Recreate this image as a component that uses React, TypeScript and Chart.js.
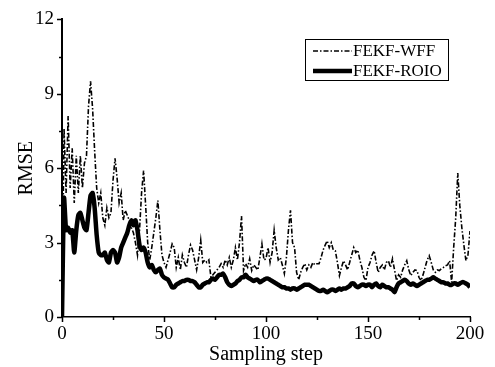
import React, { useEffect, useRef } from "react";
import { Chart, registerables } from "chart.js";

Chart.register(...registerables);

const seriesNames = ["FEKF-WFF", "FEKF-ROIO"];
const xTitle = "Sampling step";
const yTitle = "RMSE";
const xMajorTicks = [0, 50, 100, 150, 200];
const yMajorTicks = [0, 3, 6, 9, 12];

const wff = [
  0, 7.6, 5.0, 8.1, 5.2, 6.8, 4.6, 6.5, 5.0, 6.5,
  5.2, 6.2, 6.5, 8.5, 9.5, 8.4, 6.7, 5.2, 4.6, 5.0,
  4.0, 3.7, 4.4, 4.0, 4.2, 5.5, 6.4, 5.6, 4.6, 5.0,
  3.9, 4.3, 4.1, 3.9, 3.6, 3.4, 3.0, 2.5, 3.5, 5.0,
  5.9, 4.5, 3.0, 2.3, 2.8, 3.4, 4.0, 4.7, 3.5, 2.5,
  2.2, 2.0, 2.3, 2.6, 2.95, 2.8, 2.0, 2.4, 1.9, 2.5,
  2.2, 2.0, 2.5, 2.9, 2.7, 2.3, 1.9, 2.4, 3.1, 2.2,
  2.3, 2.2, 2.3, 1.6, 1.7, 1.8, 1.9, 2.0, 2.15, 2.0,
  2.3, 2.1, 2.4, 2.0, 2.3, 2.8, 2.3, 3.0, 4.07, 1.87,
  2.15, 2.0, 2.35, 1.87, 2.1, 2.0, 1.9, 2.4, 2.95, 2.3,
  2.35, 2.8, 2.2, 2.6, 3.5, 2.8, 2.3, 2.4, 2.1, 1.75,
  2.4, 3.5, 4.3, 3.0, 2.8, 1.8, 1.5, 1.8, 2.0, 2.15,
  1.9, 2.1, 2.0, 2.2, 2.1, 2.15, 2.15, 2.4, 2.7, 2.9,
  3.07, 2.8, 3.0, 2.7, 2.67, 2.2, 1.67, 2.0, 2.27, 2.1,
  1.9, 2.2, 2.5, 2.8, 2.6, 2.7, 2.3, 2.0, 1.6, 1.47,
  2.0, 2.2, 2.5, 2.67, 2.2, 1.8, 2.0, 2.1, 1.9, 2.2,
  2.27, 2.0, 2.35, 1.9, 1.47, 1.7, 1.6, 1.9, 2.1, 2.27,
  1.9, 1.67, 1.8, 1.9, 1.87, 1.6, 1.47, 1.7, 2.0, 2.3,
  2.47, 2.2, 1.9, 1.8, 1.9, 1.87, 1.95, 2.0, 2.07, 2.1,
  2.27, 1.4, 2.8, 4.0, 5.8, 4.5, 3.6, 2.9, 2.27, 2.5,
  3.47,
];

const roio = [
  0, 4.8, 3.5, 3.6, 3.4, 3.5, 2.6, 3.5, 4.1, 4.2,
  3.9, 3.6, 3.5, 4.2, 4.9, 5.0, 4.4, 3.3, 2.6, 2.5,
  2.5, 2.6, 2.3, 2.2, 2.6, 2.7, 2.6, 2.2, 2.4, 2.8,
  3.0, 3.2, 3.4, 3.7, 3.9, 3.7, 3.9, 3.5, 2.9, 2.7,
  2.8, 2.6, 2.2, 2.0, 2.1, 1.9, 1.8, 1.9, 1.95, 1.7,
  1.6, 1.55, 1.5, 1.35, 1.2, 1.2, 1.3, 1.35, 1.4, 1.45,
  1.45, 1.5, 1.5, 1.45, 1.45, 1.4, 1.3, 1.2, 1.2, 1.3,
  1.35, 1.4, 1.4, 1.5, 1.55, 1.5, 1.6, 1.7, 1.7, 1.75,
  1.6, 1.4, 1.3, 1.25, 1.3, 1.35, 1.45, 1.5, 1.6, 1.6,
  1.7, 1.6, 1.55, 1.5, 1.45, 1.5, 1.5, 1.4, 1.45, 1.5,
  1.55, 1.55, 1.5, 1.45, 1.4, 1.35, 1.3, 1.25, 1.2, 1.2,
  1.15, 1.15, 1.1, 1.15, 1.15, 1.1, 1.15, 1.2, 1.25, 1.3,
  1.3, 1.3, 1.25, 1.2, 1.15, 1.1, 1.05, 1.05, 1.1, 1.05,
  1.0, 1.05, 1.1, 1.1, 1.05, 1.1, 1.15, 1.1, 1.15, 1.15,
  1.2, 1.25, 1.35, 1.35, 1.25, 1.2, 1.25, 1.3, 1.3, 1.25,
  1.3, 1.3, 1.2, 1.3, 1.35, 1.25, 1.2, 1.3, 1.25, 1.2,
  1.2, 1.15, 1.1, 1.0, 1.2, 1.35, 1.4, 1.45, 1.5, 1.45,
  1.35, 1.3, 1.35, 1.3, 1.25, 1.3, 1.35, 1.4, 1.45, 1.5,
  1.5, 1.55, 1.6, 1.55, 1.5, 1.45, 1.4, 1.4, 1.35, 1.35,
  1.3, 1.3, 1.35, 1.35, 1.3, 1.35, 1.4, 1.4, 1.35, 1.3,
  1.2,
];

const FONT = "'Liberation Serif', 'Times New Roman', serif";
const DASH = [5, 2, 1.5, 2];

const minorTickPlugin = {
  id: "minorTicks",
  afterDraw(chart: any) {
    const ctx = chart.ctx;
    const xs = chart.scales.x;
    const ys = chart.scales.y;
    const area = chart.chartArea;
    ctx.save();
    ctx.strokeStyle = "#000";
    ctx.lineWidth = 1.5;
    ys.ticks.forEach((t: any) => {
      const p = Math.round(ys.getPixelForValue(t.value)) + 0.5;
      const len = yMajorTicks.includes(t.value) ? 5 : 3;
      ctx.beginPath();
      ctx.moveTo(area.left - len, p);
      ctx.lineTo(area.left, p);
      ctx.stroke();
    });
    xs.ticks.forEach((t: any) => {
      const p = Math.round(xs.getPixelForValue(t.value)) + 0.5;
      const len = xMajorTicks.includes(t.value) ? 5 : 3;
      ctx.beginPath();
      ctx.moveTo(p, area.bottom);
      ctx.lineTo(p, area.bottom + len);
      ctx.stroke();
    });
    ctx.restore();
  },
};

const legendPlugin = {
  id: "boxLegend",
  afterDraw(chart: any) {
    const ctx = chart.ctx;
    const bx = 305.5, by = 39.5, bw = 143, bh = 41;
    ctx.save();
    ctx.strokeStyle = "#000";
    ctx.lineWidth = 1;
    ctx.strokeRect(bx, by, bw, bh);
    const rows = [51, 71];
    chart.data.datasets.forEach((ds: any, i: number) => {
      const y = rows[i];
      ctx.beginPath();
      ctx.lineWidth = ds.borderWidth;
      ctx.setLineDash(ds.borderDash || []);
      ctx.moveTo(313, y);
      ctx.lineTo(352, y);
      ctx.stroke();
      ctx.setLineDash([]);
      ctx.fillStyle = "#000";
      ctx.font = `17px ${FONT}`;
      ctx.textBaseline = "middle";
      ctx.textAlign = "left";
      ctx.fillText(ds.label, 353, y + 1);
    });
    ctx.restore();
  },
};

export default function App() {
  const ref = useRef<HTMLCanvasElement | null>(null);
  useEffect(() => {
    if (!ref.current) return;
    const chart = new Chart(ref.current, {
      type: "line",
      data: {
        datasets: [
          {
            label: seriesNames[0],
            data: wff.map((v, i) => ({ x: i, y: v })),
            borderColor: "#000",
            borderWidth: 1.6,
            borderDash: DASH,
            pointRadius: 0,
            tension: 0,
            order: 2,
          },
          {
            label: seriesNames[1],
            data: roio.map((v, i) => ({ x: i, y: v })),
            borderColor: "#000",
            borderWidth: 4.5,
            pointRadius: 0,
            tension: 0.2,
            order: 1,
          },
        ],
      },
      options: {
        responsive: false,
        animation: false,
        devicePixelRatio: 1,
        layout: { padding: { left: 0, top: 16, right: 25, bottom: 0 } },
        plugins: { legend: { display: false }, tooltip: { enabled: false } },
        scales: {
          x: {
            type: "linear",
            min: 0,
            max: 200,
            ticks: {
              stepSize: 25,
              color: "#000",
              font: { family: FONT, size: 19 },
              padding: 6,
              maxRotation: 0,
              callback: (v: any) => (xMajorTicks.includes(v) ? String(v) : ""),
            },
            grid: { display: false, drawTicks: false },
            border: { display: true, color: "#000", width: 1.5 },
            title: {
              display: true,
              text: xTitle,
              color: "#000",
              font: { family: FONT, size: 20 },
              padding: { top: 0, bottom: 0 },
            },
            afterFit: (s: any) => {
              s.height = 50;
            },
          },
          y: {
            min: 0,
            max: 12,
            ticks: {
              stepSize: 1.5,
              color: "#000",
              font: { family: FONT, size: 19 },
              padding: 8,
              callback: (v: any) => (yMajorTicks.includes(v) ? String(v) : ""),
            },
            grid: { display: false, drawTicks: false },
            border: { display: true, color: "#000", width: 2 },
            title: {
              display: true,
              text: yTitle,
              color: "#000",
              font: { family: FONT, size: 20 },
              padding: { top: 15, bottom: 0 },
            },
            afterFit: (s: any) => {
              s.width = 62;
            },
          },
        },
      },
      plugins: [minorTickPlugin, legendPlugin],
    } as any);
    return () => chart.destroy();
  }, []);
  return (
    <div style={{ position: "absolute", left: 0, top: 0, width: 495, height: 367, background: "#fff" }}>
      <canvas ref={ref} width={495} height={367} style={{ width: 495, height: 367 }} />
    </div>
  );
}
